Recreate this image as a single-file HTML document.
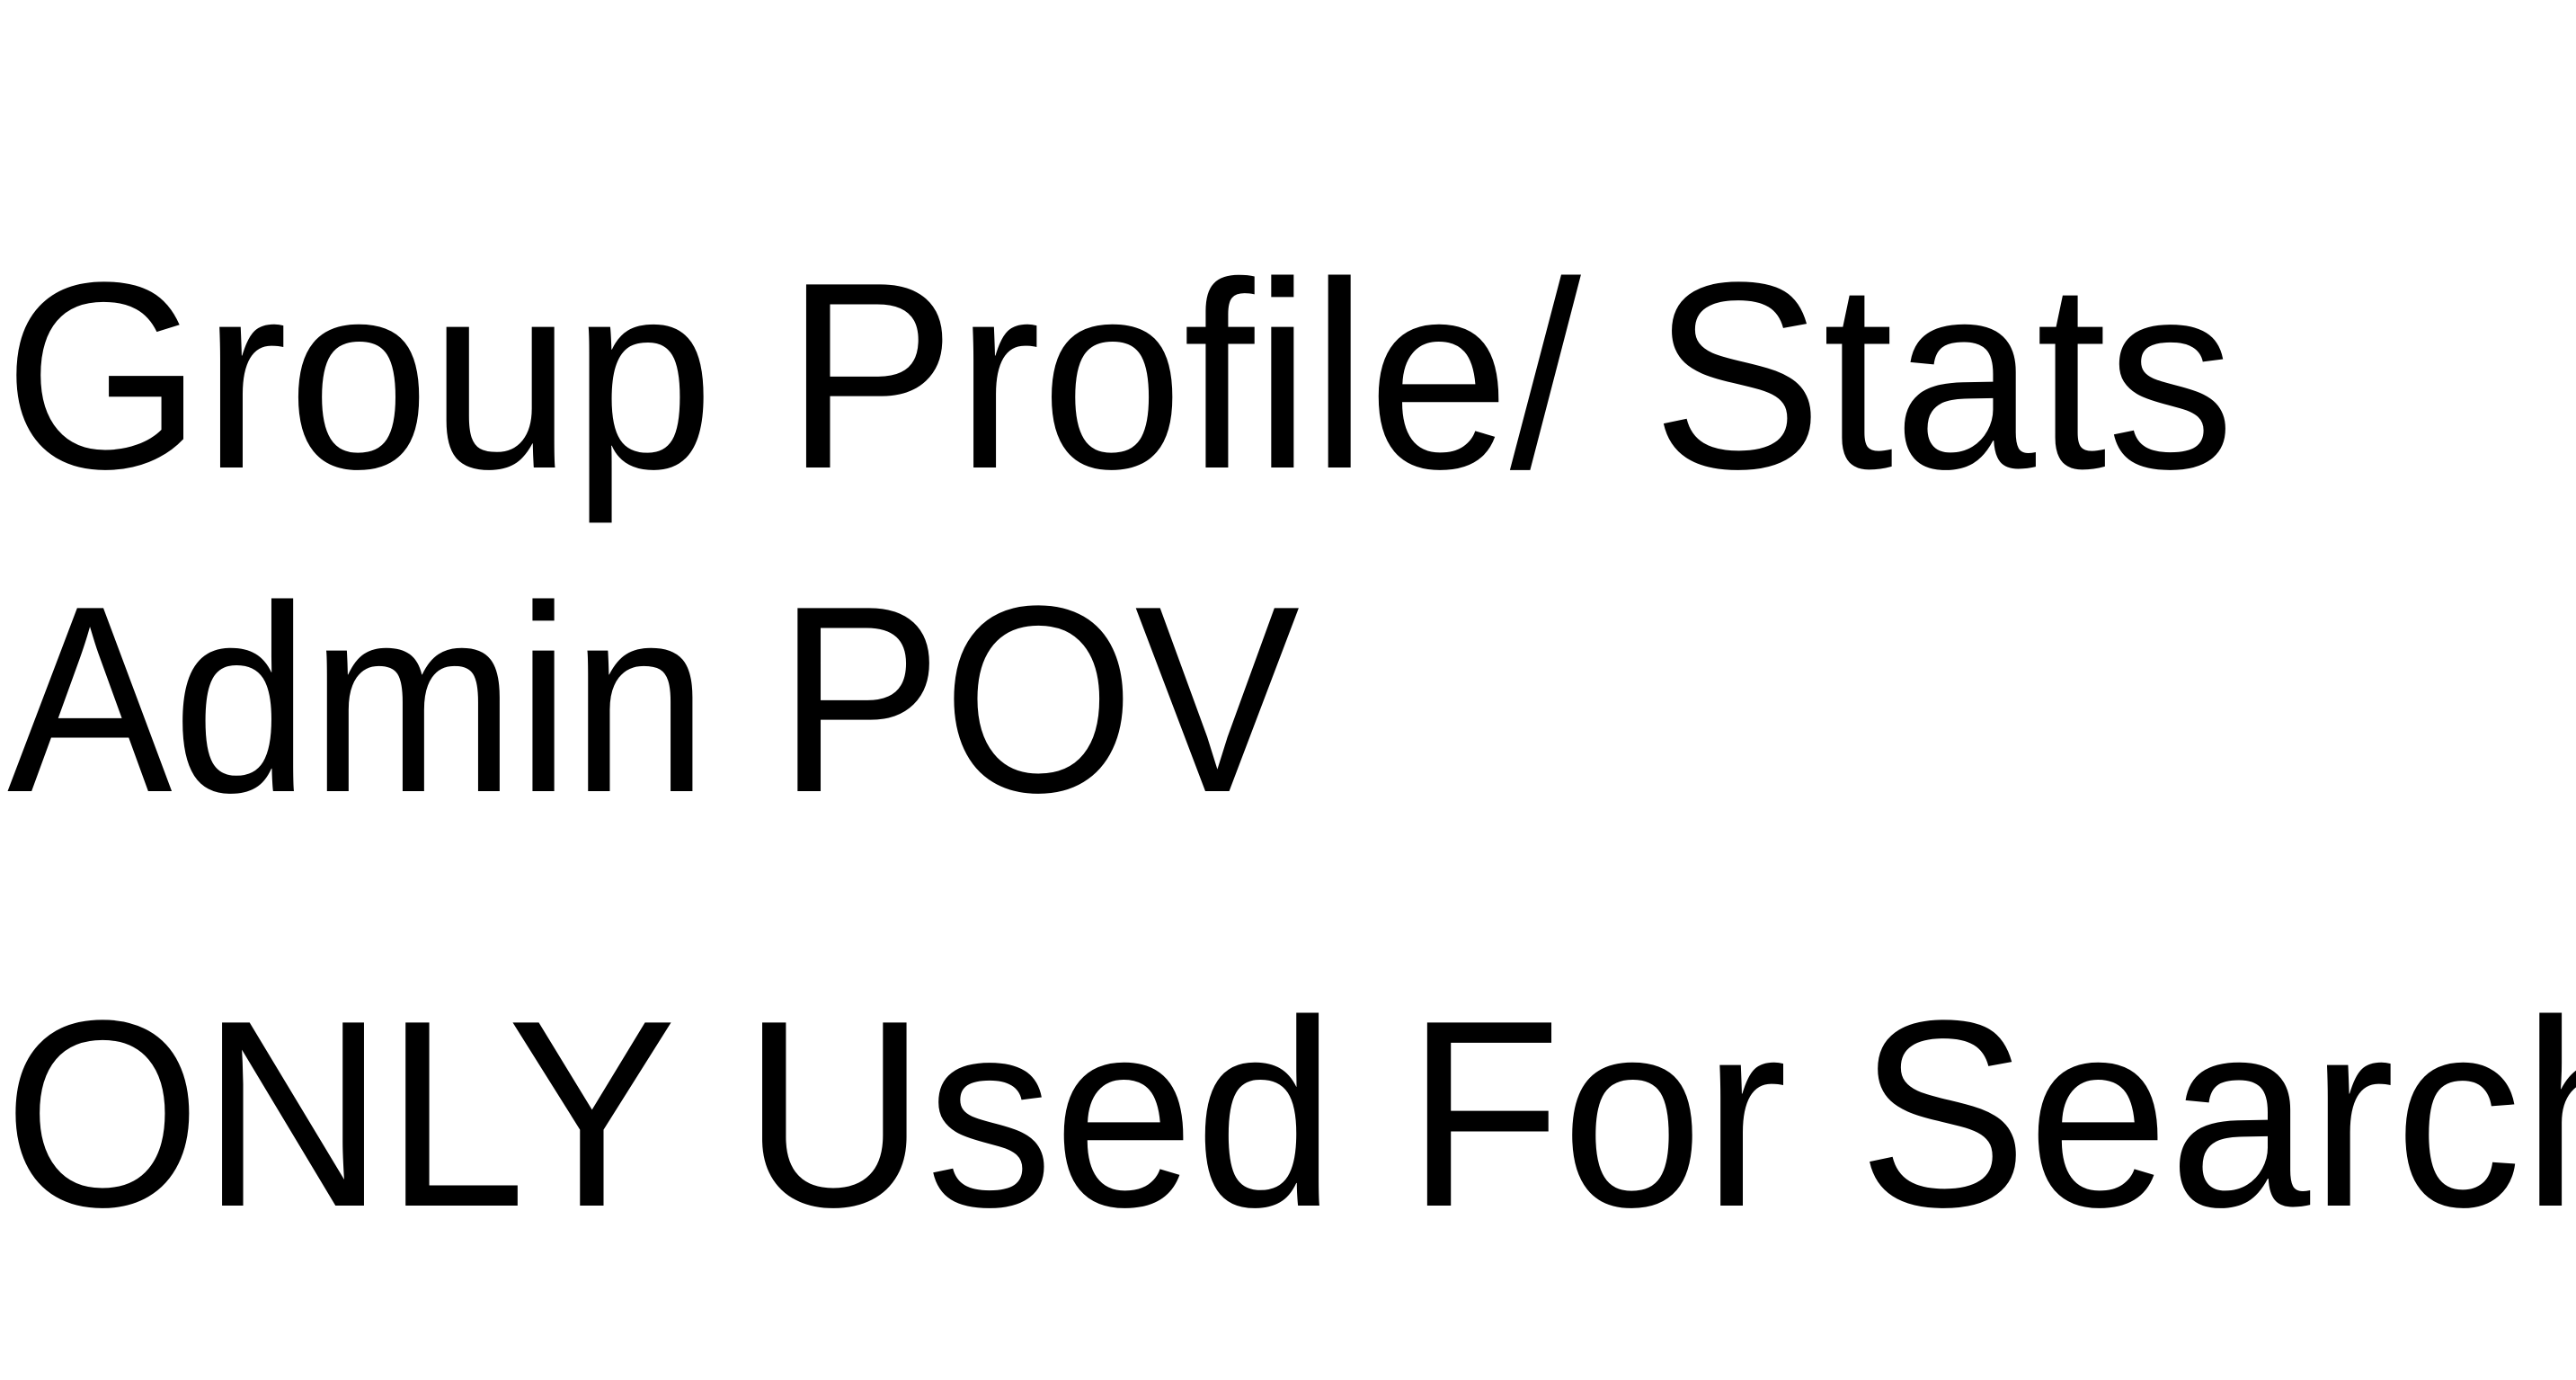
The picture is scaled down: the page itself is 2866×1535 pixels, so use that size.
<!DOCTYPE html>
<html>
<head>
<meta charset="utf-8">
<style>
  html, body { margin:0; padding:0; background:#fff; }
  body { width:2866px; height:1535px; position:relative; overflow:hidden; }
  .t { position:absolute; left:4px; font-family:"Liberation Sans", sans-serif; font-size:296px; line-height:296px; color:#000; white-space:nowrap; transform-origin:0 0; }
</style>
</head>
<body>
  <div class="t" style="top:270px; transform:scaleX(0.961);">Group Profile/ Stats</div>
  <div class="t" style="top:630px; left:8px; transform:scaleX(0.93);">Admin POV</div>
  <div class="t" style="top:1091px; transform:scaleX(0.955);">ONLY Used For Search</div>
</body>
</html>
